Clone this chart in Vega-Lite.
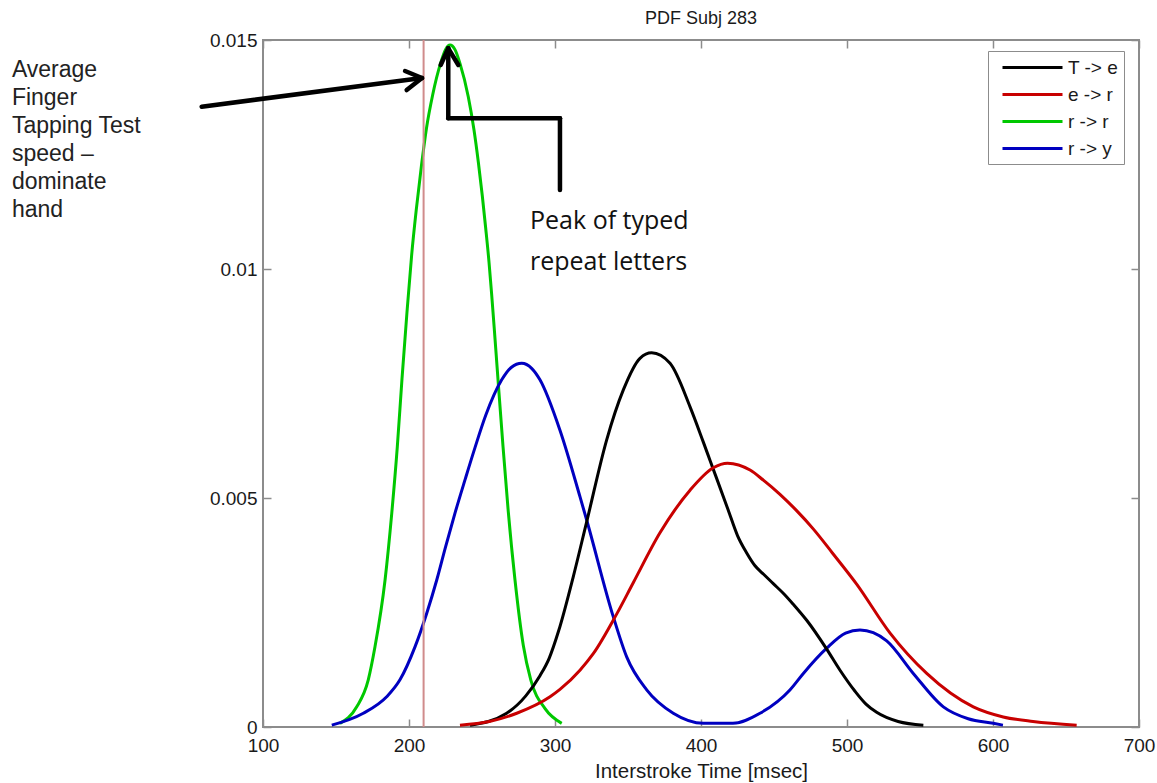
{
  "$schema": "https://vega.github.io/schema/vega-lite/v6.json",
  "width": 876,
  "height": 687,
  "autosize": {"type": "none"},
  "padding": {"left": 263, "top": 40, "right": 18, "bottom": 56},
  "background": "white",
  "title": {"text": "PDF Subj 283", "font": "Liberation Sans", "fontSize": 18, "fontWeight": "normal", "color": "#1a1a1a", "offset": 3, "anchor": "middle"},
  "config": {
    "view": {"stroke": "#8c8c8c", "strokeWidth": 2},
    "axis": {"grid": false, "domain": false, "tickColor": "#8c8c8c", "tickWidth": 1.5, "tickSize": -8, "labelFont": "Liberation Sans", "labelFontSize": 19, "labelColor": "#1a1a1a", "titleFont": "Liberation Sans", "titleFontSize": 20.5, "titleFontWeight": "normal", "titleColor": "#1a1a1a", "labelFlush": false, "labelOverlap": false}
  },
  "datasets": {
    "curves": [
      {"s": "r -> r", "x": 152.7, "y": 0.00008},
      {"s": "r -> r", "x": 164.2, "y": 0.00044},
      {"s": "r -> r", "x": 172.1, "y": 0.00103},
      {"s": "r -> r", "x": 176.7, "y": 0.00175},
      {"s": "r -> r", "x": 183.6, "y": 0.00321},
      {"s": "r -> r", "x": 188.2, "y": 0.00467},
      {"s": "r -> r", "x": 192.0, "y": 0.00612},
      {"s": "r -> r", "x": 195.2, "y": 0.00760},
      {"s": "r -> r", "x": 198.6, "y": 0.00905},
      {"s": "r -> r", "x": 201.8, "y": 0.01030},
      {"s": "r -> r", "x": 205.0, "y": 0.01130},
      {"s": "r -> r", "x": 208.5, "y": 0.01225},
      {"s": "r -> r", "x": 212.0, "y": 0.01308},
      {"s": "r -> r", "x": 216.2, "y": 0.01380},
      {"s": "r -> r", "x": 221.7, "y": 0.01450},
      {"s": "r -> r", "x": 225.0, "y": 0.01479},
      {"s": "r -> r", "x": 228.1, "y": 0.01489},
      {"s": "r -> r", "x": 231.5, "y": 0.01479},
      {"s": "r -> r", "x": 234.9, "y": 0.01449},
      {"s": "r -> r", "x": 240.6, "y": 0.01376},
      {"s": "r -> r", "x": 244.5, "y": 0.01304},
      {"s": "r -> r", "x": 247.5, "y": 0.01233},
      {"s": "r -> r", "x": 250.2, "y": 0.01160},
      {"s": "r -> r", "x": 252.5, "y": 0.01090},
      {"s": "r -> r", "x": 254.8, "y": 0.01015},
      {"s": "r -> r", "x": 256.6, "y": 0.00945},
      {"s": "r -> r", "x": 258.4, "y": 0.00870},
      {"s": "r -> r", "x": 260.7, "y": 0.00770},
      {"s": "r -> r", "x": 264.4, "y": 0.00612},
      {"s": "r -> r", "x": 268.0, "y": 0.00470},
      {"s": "r -> r", "x": 272.6, "y": 0.00321},
      {"s": "r -> r", "x": 278.3, "y": 0.00178},
      {"s": "r -> r", "x": 283.4, "y": 0.00103},
      {"s": "r -> r", "x": 293.2, "y": 0.00040},
      {"s": "r -> r", "x": 304.6, "y": 0.00008},

      {"s": "r -> y", "x": 147.1, "y": 0.00004},
      {"s": "r -> y", "x": 168.7, "y": 0.00030},
      {"s": "r -> y", "x": 184.7, "y": 0.00066},
      {"s": "r -> y", "x": 193.8, "y": 0.00103},
      {"s": "r -> y", "x": 204.1, "y": 0.00175},
      {"s": "r -> y", "x": 212.1, "y": 0.00248},
      {"s": "r -> y", "x": 219.0, "y": 0.00321},
      {"s": "r -> y", "x": 225.1, "y": 0.00394},
      {"s": "r -> y", "x": 231.5, "y": 0.00467},
      {"s": "r -> y", "x": 238.4, "y": 0.00540},
      {"s": "r -> y", "x": 245.2, "y": 0.00610},
      {"s": "r -> y", "x": 252.5, "y": 0.00680},
      {"s": "r -> y", "x": 263.5, "y": 0.00758},
      {"s": "r -> y", "x": 270.0, "y": 0.00785},
      {"s": "r -> y", "x": 277.2, "y": 0.00794},
      {"s": "r -> y", "x": 284.0, "y": 0.00783},
      {"s": "r -> y", "x": 289.7, "y": 0.00758},
      {"s": "r -> y", "x": 303.4, "y": 0.00648},
      {"s": "r -> y", "x": 317.1, "y": 0.00503},
      {"s": "r -> y", "x": 321.7, "y": 0.00452},
      {"s": "r -> y", "x": 339.9, "y": 0.00241},
      {"s": "r -> y", "x": 349.1, "y": 0.00153},
      {"s": "r -> y", "x": 362.8, "y": 0.00081},
      {"s": "r -> y", "x": 381.0, "y": 0.00030},
      {"s": "r -> y", "x": 401.6, "y": 0.00008},
      {"s": "r -> y", "x": 421.9, "y": 0.00008},
      {"s": "r -> y", "x": 440.4, "y": 0.00030},
      {"s": "r -> y", "x": 460.9, "y": 0.00081},
      {"s": "r -> y", "x": 470.1, "y": 0.00117},
      {"s": "r -> y", "x": 486.1, "y": 0.00172},
      {"s": "r -> y", "x": 499.0, "y": 0.00205},
      {"s": "r -> y", "x": 508.9, "y": 0.00212},
      {"s": "r -> y", "x": 518.0, "y": 0.00206},
      {"s": "r -> y", "x": 527.2, "y": 0.00188},
      {"s": "r -> y", "x": 545.4, "y": 0.00117},
      {"s": "r -> y", "x": 566.0, "y": 0.00044},
      {"s": "r -> y", "x": 583.0, "y": 0.00018},
      {"s": "r -> y", "x": 600.2, "y": 0.00008},
      {"s": "r -> y", "x": 606.8, "y": 0.00004},

      {"s": "T -> e", "x": 241.8, "y": 0.00004},
      {"s": "T -> e", "x": 266.9, "y": 0.00030},
      {"s": "T -> e", "x": 280.0, "y": 0.00068},
      {"s": "T -> e", "x": 289.7, "y": 0.00112},
      {"s": "T -> e", "x": 296.0, "y": 0.00150},
      {"s": "T -> e", "x": 302.5, "y": 0.00210},
      {"s": "T -> e", "x": 312.5, "y": 0.00328},
      {"s": "T -> e", "x": 321.7, "y": 0.00448},
      {"s": "T -> e", "x": 335.4, "y": 0.00627},
      {"s": "T -> e", "x": 346.8, "y": 0.00736},
      {"s": "T -> e", "x": 358.2, "y": 0.00805},
      {"s": "T -> e", "x": 366.2, "y": 0.00817},
      {"s": "T -> e", "x": 378.8, "y": 0.00794},
      {"s": "T -> e", "x": 392.5, "y": 0.00699},
      {"s": "T -> e", "x": 401.6, "y": 0.00622},
      {"s": "T -> e", "x": 406.2, "y": 0.00582},
      {"s": "T -> e", "x": 418.5, "y": 0.00475},
      {"s": "T -> e", "x": 425.0, "y": 0.00418},
      {"s": "T -> e", "x": 431.3, "y": 0.00380},
      {"s": "T -> e", "x": 437.0, "y": 0.00352},
      {"s": "T -> e", "x": 442.7, "y": 0.00334},
      {"s": "T -> e", "x": 449.5, "y": 0.00313},
      {"s": "T -> e", "x": 457.0, "y": 0.00290},
      {"s": "T -> e", "x": 463.2, "y": 0.00268},
      {"s": "T -> e", "x": 472.4, "y": 0.00233},
      {"s": "T -> e", "x": 486.1, "y": 0.00170},
      {"s": "T -> e", "x": 495.0, "y": 0.00125},
      {"s": "T -> e", "x": 505.5, "y": 0.00078},
      {"s": "T -> e", "x": 513.0, "y": 0.00050},
      {"s": "T -> e", "x": 520.3, "y": 0.00032},
      {"s": "T -> e", "x": 535.0, "y": 0.00012},
      {"s": "T -> e", "x": 552.3, "y": 0.00004},

      {"s": "e -> r", "x": 234.9, "y": 0.00004},
      {"s": "e -> r", "x": 255.0, "y": 0.00012},
      {"s": "e -> r", "x": 273.8, "y": 0.00030},
      {"s": "e -> r", "x": 296.6, "y": 0.00066},
      {"s": "e -> r", "x": 303.4, "y": 0.00082},
      {"s": "e -> r", "x": 317.1, "y": 0.00124},
      {"s": "e -> r", "x": 326.2, "y": 0.00160},
      {"s": "e -> r", "x": 342.3, "y": 0.00247},
      {"s": "e -> r", "x": 353.6, "y": 0.00315},
      {"s": "e -> r", "x": 371.9, "y": 0.00424},
      {"s": "e -> r", "x": 392.5, "y": 0.00517},
      {"s": "e -> r", "x": 408.4, "y": 0.00566},
      {"s": "e -> r", "x": 418.2, "y": 0.00576},
      {"s": "e -> r", "x": 433.6, "y": 0.00561},
      {"s": "e -> r", "x": 442.7, "y": 0.00539},
      {"s": "e -> r", "x": 454.1, "y": 0.00508},
      {"s": "e -> r", "x": 465.0, "y": 0.00474},
      {"s": "e -> r", "x": 477.0, "y": 0.00432},
      {"s": "e -> r", "x": 490.0, "y": 0.00380},
      {"s": "e -> r", "x": 506.6, "y": 0.00312},
      {"s": "e -> r", "x": 529.5, "y": 0.00205},
      {"s": "e -> r", "x": 554.6, "y": 0.00117},
      {"s": "e -> r", "x": 586.5, "y": 0.00044},
      {"s": "e -> r", "x": 607.0, "y": 0.00022},
      {"s": "e -> r", "x": 627.4, "y": 0.00012},
      {"s": "e -> r", "x": 657.3, "y": 0.00004}
    ],
    "arrows": [
      {"x": 58.0, "y": 0.013544, "x2": 208.9, "y2": 0.014170},
      {"x": 208.9, "y": 0.014170, "x2": 197.3, "y2": 0.014323},
      {"x": 208.9, "y": 0.014170, "x2": 198.4, "y2": 0.013908},
      {"x": 226.9, "y": 0.014819, "x2": 226.9, "y2": 0.013290},
      {"x": 226.9, "y": 0.013290, "x2": 303.4, "y2": 0.013290},
      {"x": 303.4, "y": 0.013290, "x2": 303.4, "y2": 0.011725},
      {"x": 226.9, "y": 0.014819, "x2": 221.7, "y2": 0.014454},
      {"x": 226.9, "y": 0.014819, "x2": 233.8, "y2": 0.014454}
    ]
  },
  "layer": [
    {
      "data": {"name": "curves"},
      "mark": {"type": "line", "strokeWidth": 3, "interpolate": "monotone"},
      "encoding": {
        "x": {"field": "x", "type": "quantitative", "scale": {"domain": [100, 700], "nice": false, "zero": false},
          "axis": {"orient": "bottom", "values": [100, 200, 300, 400, 500, 600, 700], "title": "Interstroke Time [msec]", "labelPadding": 17, "titlePadding": 6}},
        "y": {"field": "y", "type": "quantitative", "scale": {"domain": [0, 0.015], "nice": false, "zero": false},
          "axis": {"orient": "left", "values": [0, 0.005, 0.01, 0.015], "format": ".3~f", "title": null, "labelPadding": 14}},
        "color": {"field": "s", "type": "nominal",
          "scale": {"domain": ["T -> e", "e -> r", "r -> r", "r -> y"], "range": ["#000000", "#c80000", "#00c800", "#0000c0"]},
          "legend": {"title": null, "orient": "none", "legendX": 725, "legendY": 11, "direction": "vertical",
            "strokeColor": "#8c8c8c", "fillColor": "white", "padding": 5, "symbolType": "M-3,0L3,0", "symbolSize": 400,
            "symbolOffset": 28, "symbolStrokeWidth": 3, "labelFont": "Liberation Sans", "labelFontSize": 19, "labelColor": "#1a1a1a", "labelOffset": 24, "rowPadding": 5}}
      }
    },
    {
      "data": {"values": [{"x": 210, "y0": 0, "y1": 0.015}]},
      "mark": {"type": "rule", "color": "#d08c8c", "strokeWidth": 2},
      "encoding": {
        "x": {"field": "x", "type": "quantitative", "axis": {"orient": "top", "labels": false, "title": null, "values": [100, 200, 300, 400, 500, 600, 700]}},
        "y": {"field": "y0", "type": "quantitative", "axis": {"orient": "right", "labels": false, "title": null, "values": [0, 0.005, 0.01, 0.015]}},
        "y2": {"field": "y1"}
      }
    },
    {
      "data": {"name": "arrows"},
      "mark": {"type": "rule", "color": "black", "strokeWidth": 4.5, "strokeCap": "round"},
      "encoding": {
        "x": {"field": "x", "type": "quantitative", "axis": null},
        "y": {"field": "y", "type": "quantitative", "axis": null},
        "x2": {"field": "x2"},
        "y2": {"field": "y2"}
      }
    },
    {
      "data": {"values": [{"label": "Average\nFinger\nTapping Test\nspeed –\ndominate\nhand", "x": -72, "y": 0.014186}]},
      "mark": {"type": "text", "align": "left", "baseline": "alphabetic", "font": "Liberation Sans", "fontSize": 23, "lineHeight": 28, "lineBreak": "\n", "color": "#222222"},
      "encoding": {
        "x": {"field": "x", "type": "quantitative", "axis": null},
        "y": {"field": "y", "type": "quantitative", "axis": null},
        "text": {"field": "label"}
      }
    },
    {
      "data": {"values": [{"label": "Peak of typed\nrepeat letters", "x": 282.9, "y": 0.010867}]},
      "mark": {"type": "text", "align": "left", "baseline": "alphabetic", "font": "Open Sans", "fontSize": 25, "lineHeight": 41, "lineBreak": "\n", "color": "#111111"},
      "encoding": {
        "x": {"field": "x", "type": "quantitative", "axis": null},
        "y": {"field": "y", "type": "quantitative", "axis": null},
        "text": {"field": "label"}
      }
    }
  ],
  "resolve": {"axis": {"x": "independent", "y": "independent"}}
}
